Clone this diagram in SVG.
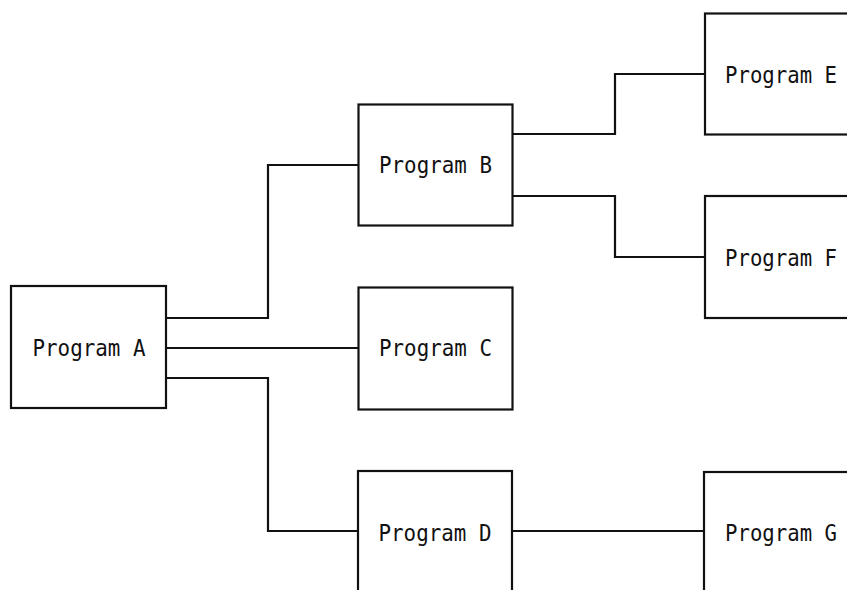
<svg xmlns="http://www.w3.org/2000/svg" width="847" height="590" viewBox="0 0 847 590">
<style>
.box{fill:#fff;stroke:#111;stroke-width:2.2}
.lbl{font-family:"DejaVu Sans Mono","Liberation Mono",monospace;font-size:23px;fill:#111;text-anchor:middle}
.conn path{fill:none;stroke:#111;stroke-width:2.2}
</style>
<rect width="847" height="590" fill="#fff"/>
<g class="conn" id="connectors">
<path d="M166,318 H268 V165 H358"/>
<path d="M166,348 H358"/>
<path d="M166,378 H268 V531 H358"/>
<path d="M512,134 H615 V74 H705"/>
<path d="M512,196 H615 V257 H705"/>
<path d="M512,531 H704"/>
</g>
<g id="nodeA"><rect class="box" x="11" y="286" width="155" height="122"/><text class="lbl" x="89" y="356" textLength="113" lengthAdjust="spacingAndGlyphs">Program A</text></g>
<g id="nodeB"><rect class="box" x="358.5" y="104.5" width="154" height="121"/><text class="lbl" x="435.5" y="173" textLength="113" lengthAdjust="spacingAndGlyphs">Program B</text></g>
<g id="nodeC"><rect class="box" x="358.5" y="287.5" width="154" height="122"/><text class="lbl" x="435.5" y="356" textLength="113" lengthAdjust="spacingAndGlyphs">Program C</text></g>
<g id="nodeD"><rect class="box" x="358" y="471" width="154" height="140"/><text class="lbl" x="435" y="540.5" textLength="113" lengthAdjust="spacingAndGlyphs">Program D</text></g>
<g id="nodeE"><rect class="box" x="705" y="13.5" width="160" height="121"/><text class="lbl" x="781" y="83" textLength="112" lengthAdjust="spacingAndGlyphs">Program E</text></g>
<g id="nodeF"><rect class="box" x="705" y="196" width="160" height="122"/><text class="lbl" x="781" y="266" textLength="112" lengthAdjust="spacingAndGlyphs">Program F</text></g>
<g id="nodeG"><rect class="box" x="704" y="472" width="160" height="140"/><text class="lbl" x="781" y="541" textLength="112" lengthAdjust="spacingAndGlyphs">Program G</text></g>
</svg>
